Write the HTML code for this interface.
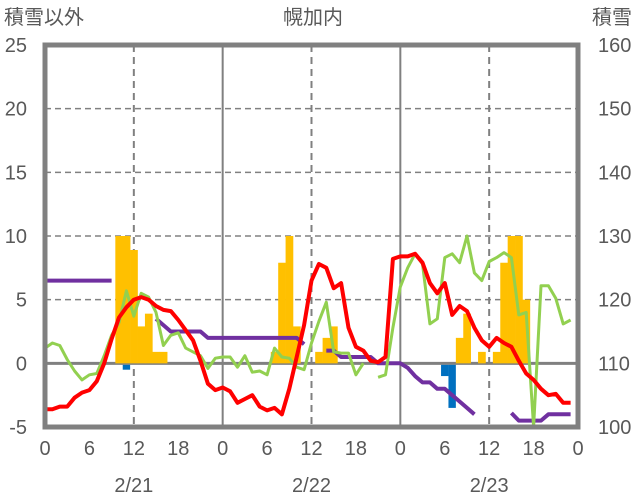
<!DOCTYPE html>
<html><head><meta charset="utf-8"><style>
body{margin:0;background:#fff;}
svg{display:block;font-family:"Liberation Sans","Noto Sans CJK JP",sans-serif;}
</style></head><body>
<svg id="chart" width="636" height="501" viewBox="0 0 636 501" xmlns="http://www.w3.org/2000/svg">
<text x="4" y="24" font-size="20" fill="#595959">積雪以外</text>
<text x="313" y="24" font-size="20" fill="#595959" text-anchor="middle">幌加内</text>
<text x="632" y="24" font-size="20" fill="#595959" text-anchor="end">積雪</text>
<g id="grid"></g><g id="bars"></g><g id="lines"></g><g id="labels"></g>
</svg>
<script>
const hours = Array.from({length:72},(_,i)=>i);
const leftTicks = [-5,0,5,10,15,20,25];
const rightTicks = [100,110,120,130,140,150,160];
const xTickHours = [0,6,12,18,24,30,36,42,48,54,60,66,72];
const xTickLabels = ["0","6","12","18","0","6","12","18","0","6","12","18","0"];
const dateLabels = ["2/21","2/22","2/23"];
const temperature = [-3.6,-3.6,-3.4,-3.4,-2.7,-2.3,-2.1,-1.4,0,1.9,3.6,4.4,5.0,5.2,5.0,4.5,4.2,4.1,3.4,2.6,1.8,0.2,-1.6,-2.1,-1.9,-2.2,-3.1,-2.8,-2.5,-3.4,-3.7,-3.5,-4.0,-2.0,0.5,3.0,6.5,7.8,7.5,5.9,6.3,2.8,1.3,1.0,0.2,0.1,0.5,8.2,8.4,8.4,8.6,7.9,6.3,5.5,6.3,3.8,4.5,4.1,2.8,1.8,1.3,2.0,1.6,1.3,0.2,-0.8,-1.3,-2.0,-2.5,-2.4,-3.1,-3.1];
const wind = [1.2,1.6,1.4,0.3,-0.6,-1.3,-0.9,-0.8,0.6,2.2,3.2,5.7,3.7,5.5,5.2,4.0,1.4,2.2,2.4,1.2,0.9,0.6,-0.4,0.4,0.5,0.5,-0.3,0.6,-0.7,-0.6,-0.9,1.2,0.5,0.4,-0.3,-0.5,1.6,3.3,4.8,0.9,0.8,0.8,-0.9,0,null,-1.1,-0.9,2.8,6.0,7.5,8.6,7.8,3.1,3.5,8.3,8.6,7.9,10.0,7.1,6.5,8.0,8.3,8.7,8.3,3.8,4.0,-5.0,6.1,6.1,5.1,3.1,3.4];
const snowDepth = [123,123,123,123,123,123,123,123,123,123,null,null,null,null,null,117,116,115,115,115,115,115,114,114,114,114,114,114,114,114,114,114,114,114,114,113,null,null,112,112,111,111,111,111,111,110,110,110,110,109.3,108,107,107,106,106,105,104,103,102,null,null,null,null,102.2,101,101,101,101,102,102,102,102];
const precip = [0,0,0,0,0,0,0,0,0,0,10,10,8.9,2.9,3.9,0.9,0.9,0,0,0,0,0,0,0,0,0,0,0,0,0,0,0.9,7.9,10,2.9,0,0,0.9,2.0,2.9,0,0,0,0,0,0,0,0,0,0,0,0,0,0,0,0,2.0,3.9,0,0.9,0,0.9,7.9,10,10,5.0,0,0,0,0,0,0];
const snowChange = [0,0,0,0,0,0,0,0,0,0,0,-0.5,0,0,0,0,0,0,0,0,0,0,0,0,0,0,0,0,0,0,0,0,0,0,0,0,0,0,0,0,0,0,0,0,0,0,0,0,0,0,0,0,0,0,-1.0,-3.5,0,0,0,0,0,0,0,0,0,0,0,0,0,0,0,0];

const L=45,R=578,T=45,B=427;
const x=h=>L+(R-L)*h/72;
const y=v=>B-(B-T)*(v+5)/30;
const y2=v=>B-(B-T)*(v-100)/60;
const NS="http://www.w3.org/2000/svg";
function mk(parent,tag,attrs){const e=document.createElementNS(NS,tag);for(const k in attrs)e.setAttribute(k,attrs[k]);document.getElementById(parent).appendChild(e);return e;}

leftTicks.forEach(v=>{
  if(v>-5&&v<25){
    const g=mk('grid','line',{x1:L,x2:R,y1:y(v),y2:y(v),stroke:'#808080','stroke-width':v===0?3:1.5,'stroke-dasharray':v===0?'':'6,4'});
    
    
  }
  const t=mk('labels','text',{x:27,y:y(v)+7,'font-size':20,fill:'#595959','text-anchor':'end'});
  t.textContent=v;
  
  
});
rightTicks.forEach(v=>{
  const t=mk('labels','text',{x:598,y:y2(v)+7,'font-size':20,fill:'#595959'});
  t.textContent=v;
  
  
});
xTickHours.forEach((h,i)=>{
  if(h>0&&h<72){
    const day=h%24===0;
    const g=mk('grid','line',{x1:x(h),x2:x(h),y1:T,y2:B,stroke:'#808080','stroke-width':day?2:2,'stroke-dasharray':day?'':'7,5'});
    
    
    if(!day&&h%12!==0){g.remove();}
  }
  const t=mk('labels','text',{x:x(h),y:455,'font-size':20,fill:'#595959','text-anchor':'middle'});
  t.textContent=xTickLabels[i];
  
  
});
dateLabels.forEach((d,i)=>{
  const t=mk('labels','text',{x:x(12+24*i),y:492,'font-size':20,fill:'#595959','text-anchor':'middle'});
  t.textContent=d;
  
  
});
const bw=(R-L)/72;
precip.forEach((v,h)=>{if(v>0){
  const r=mk('bars','rect',{x:x(h)-bw/2,y:y(v),width:bw+0.3,height:y(0)-y(v),fill:'#FFC000'});
  
  
}});
snowChange.forEach((v,h)=>{if(v<0){
  const r=mk('bars','rect',{x:x(h)-bw/2,y:y(0)+1.5,width:bw,height:y(v)-y(0)-1.5,fill:'#0070C0'});
  
  
}});
function path(vals,fy){let d='',pen=false;vals.forEach((v,h)=>{if(v===null){pen=false;return;}d+=(pen?'L':'M')+x(h).toFixed(1)+','+fy(v).toFixed(1);pen=true;});return d;}
const sd=mk('lines','path',{d:path(snowDepth,y2),fill:'none',stroke:'#7030A0','stroke-width':4,'stroke-linejoin':'round'});


const wl=mk('lines','path',{d:path(wind,y),fill:'none',stroke:'#92D050','stroke-width':3,'stroke-linejoin':'round'});


const tl=mk('lines','path',{d:path(temperature,y),fill:'none',stroke:'#FF0000','stroke-width':4,'stroke-linejoin':'round'});


const fr=mk('lines','rect',{x:L,y:T,width:R-L,height:B-T,fill:'none',stroke:'#808080','stroke-width':5});


</script>
</body></html>
